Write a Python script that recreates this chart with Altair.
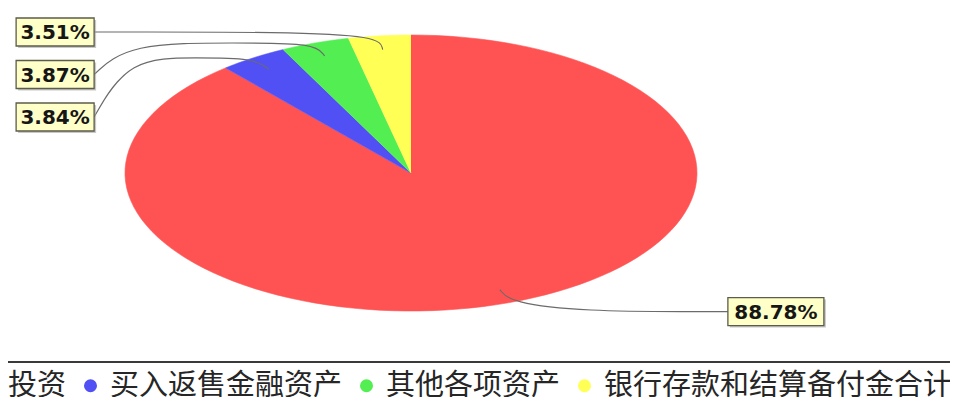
import altair as alt
import pandas as pd

# ---- data ----
categories = ["固定收益投资", "买入返售金融资产", "其他各项资产", "银行存款和结算备付金合计"]
shares = [88.78, 3.84, 3.87, 3.51]
label_texts = ["88.78%", "3.84%", "3.87%", "3.51%"]
colors = ["#FF5252", "#5050F5", "#52EE52", "#FFFF55"]

df = pd.DataFrame({
    "cat": categories,
    "share": shares,
    "label": label_texts,
    "order": list(range(len(categories))),
})

# ---- layout (pixels) ----
W, H = 942, 389
CX, CY = 403, 165     # pie centre inside plot
RX, RY = 286, 138     # ellipse radii
xs = alt.Scale(domain=[-CX / RX, (W - CX) / RX], nice=False, zero=False)
ys = alt.Scale(domain=[-(H - CY) / RY, CY / RY], nice=False, zero=False)

EDGE = 1.108          # label box inner edge (ellipse x-radius units)
YTOP = (CY - 24) / RY # highest label centre
STEP = 42.5 / RY      # vertical spacing of stacked labels
BOXH = 14 / RY

color_scale = alt.Scale(domain=categories, range=colors)

base = (
    alt.Chart(df)
    .transform_joinaggregate(total="sum(share)")
    .transform_window(cum="sum(share)", sort=[alt.SortField("order")], frame=[None, 0])
    .transform_calculate(
        a0="2*PI*(datum.cum - datum.share)/datum.total",
        a1="2*PI*datum.cum/datum.total",
    )
    .transform_calculate(am="(datum.a0 + datum.a1)/2")
)

N = 120
wedges = (
    base.transform_calculate(k=f"sequence(-1, {N + 1})")
    .transform_flatten(["k"])
    .transform_calculate(
        t=f"datum.a0 + (datum.a1 - datum.a0)*max(datum.k, 0)/{N}",
    )
    .transform_calculate(
        px="datum.k < 0 ? 0 : sin(datum.t)",
        py="datum.k < 0 ? 0 : cos(datum.t)",
    )
    .mark_line(filled=True, strokeWidth=0.6, interpolate="linear")
    .encode(
        x=alt.X("px:Q", scale=xs, axis=None),
        y=alt.Y("py:Q", scale=ys, axis=None),
        order=alt.Order("k:Q"),
        detail="cat:N",
        fill=alt.Fill(
            "cat:N",
            scale=color_scale,
            sort=categories,
            legend=alt.Legend(
                orient="none",
                legendX=-150,
                legendY=363,
                direction="horizontal",
                title=None,
                symbolType="circle",
                symbolSize=170,
                symbolStrokeWidth=0,
                labelFont="Noto Sans CJK SC",
                labelFontSize=29,
                labelColor="#262626",
                labelOffset=5,
                columnPadding=9,
                labelLimit=800,
                padding=0,
            ),
        ),
        stroke=alt.Stroke("cat:N", scale=color_scale, legend=None),
    )
)

labelled = (
    base.transform_calculate(
        sgn="sin(datum.am) < 0 ? -1 : 1",
        ideal="1.07*cos(datum.am)",
    )
    .transform_calculate(skey="datum.sgn*datum.am")
    .transform_window(rnk="row_number()", groupby=["sgn"], sort=[alt.SortField("skey")])
    .transform_calculate(
        ly=f"min(datum.ideal, {YTOP} - (datum.rnk - 1)*{STEP})",
        ex=f"datum.sgn*{EDGE}",
        bw=f"(18*length(datum.label) - 12)/{RX}",
    )
    .transform_calculate(
        bx1="datum.ex",
        bx2="datum.ex + datum.sgn*datum.bw",
        bx="datum.ex + datum.sgn*datum.bw/2",
        by1=f"datum.ly - {BOXH}",
        by2=f"datum.ly + {BOXH}",
        hl="abs(cos(datum.am)) > abs(datum.ly) ? cos(datum.am) : datum.ly",
    )
)

leaders = (
    labelled.transform_calculate(k="sequence(0, 5)")
    .transform_flatten(["k"])
    .transform_calculate(
        lx="datum.k == 0 ? 0.9*sin(datum.am) : datum.k == 1 ? sin(datum.am) : "
           "datum.k == 2 ? sin(datum.am) + (datum.ex - sin(datum.am))*0.35 : "
           "datum.k == 3 ? datum.ex - datum.sgn*0.12 : datum.ex",
        lyy="datum.k == 0 ? 0.9*cos(datum.am) : datum.k == 1 ? cos(datum.am) : "
            "datum.k == 4 ? datum.ly : datum.hl",
    )
    .mark_line(interpolate="basis", color="#6b6b6b", strokeWidth=1.1)
    .encode(
        x=alt.X("lx:Q", scale=xs, axis=None),
        y=alt.Y("lyy:Q", scale=ys, axis=None),
        order=alt.Order("k:Q"),
        detail="cat:N",
    )
)

shadow = (
    labelled.transform_calculate(
        sx1=f"datum.bx1 + 2/{RX}", sx2=f"datum.bx2 + 2/{RX}",
        sy1=f"datum.by1 - 2/{RY}", sy2=f"datum.by2 - 2/{RY}",
    )
    .mark_rect(color="#9a9a9a", opacity=0.55)
    .encode(
        x=alt.X("sx1:Q", scale=xs, axis=None), x2="sx2:Q",
        y=alt.Y("sy1:Q", scale=ys, axis=None), y2="sy2:Q",
    )
)

boxes = (
    labelled.mark_rect(fill="#FFFFC8", stroke="#5c5c4a", strokeWidth=1.3)
    .encode(
        x=alt.X("bx1:Q", scale=xs, axis=None), x2="bx2:Q",
        y=alt.Y("by1:Q", scale=ys, axis=None), y2="by2:Q",
    )
)

texts = (
    labelled.mark_text(
        font="DejaVu Sans", fontWeight="bold", fontSize=20,
        color="#161616", align="center", baseline="middle", dy=1,
    )
    .encode(
        x=alt.X("bx:Q", scale=xs, axis=None),
        y=alt.Y("ly:Q", scale=ys, axis=None),
        text="label:N",
    )
)

divider = (
    alt.Chart(pd.DataFrame({"d": [0]}))
    .mark_rule(color="#3a3a3a", strokeWidth=2)
    .encode(x=alt.value(0), x2=alt.value(W), y=alt.value(354))
)

chart = (
    alt.layer(wedges, leaders, shadow, boxes, texts, divider)
    .properties(width=W, height=H, padding=0, autosize=alt.AutoSizeParams(type="none"))
    .configure_view(stroke=None)
)

chart.save("out.html", embed_options={"renderer": "svg", "actions": False})
